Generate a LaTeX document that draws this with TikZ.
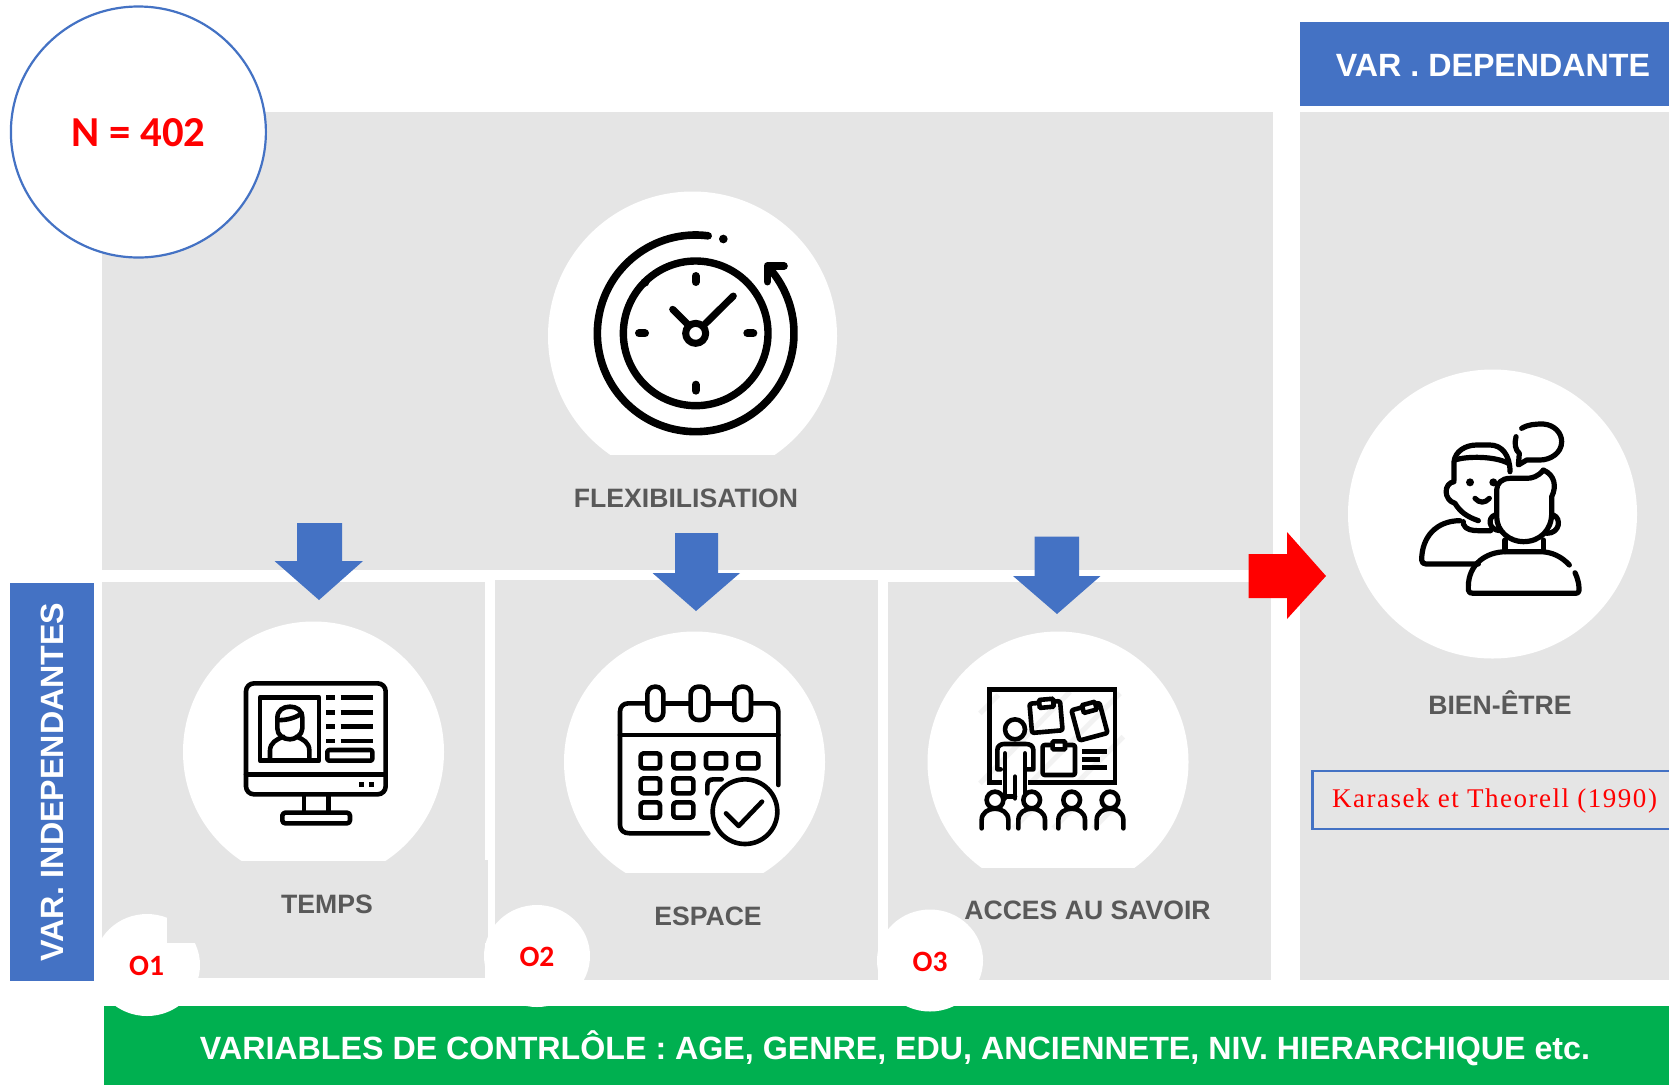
\documentclass[tikz,border=0pt]{standalone}
\usetikzlibrary{shapes.geometric}
\usepackage{fontspec}
\setmainfont{Liberation Sans}
\newfontfamily\calib{Carlito}
\newfontfamily\tim[LetterSpace=5.6]{Liberation Serif}
\definecolor{panel}{HTML}{E5E5E5}
\definecolor{bluebox}{HTML}{4472C4}
\definecolor{greenbar}{HTML}{00B050}
\definecolor{labelgray}{HTML}{595959}
\tikzset{
  panelbox/.style={fill=panel,draw=none},
  bluefill/.style={fill=bluebox,draw=none},
  disc/.style={fill=white,draw=none},
  head/.style={font=\bfseries\fontsize{26.6}{30}\selectfont,text=labelgray,inner sep=0pt},
  banner/.style={font=\bfseries\fontsize{32.2}{38}\selectfont,text=white,inner sep=0pt},
  obj/.style={font=\calib\bfseries\fontsize{29.5}{32}\selectfont,text=red,inner sep=0pt},
  ink/.style={draw=black,line cap=round,line join=round,fill=none,line width=5.2pt},
  inkfine/.style={ink,line width=4.6pt},
  stripe/.style={draw=black!5,line width=5pt},
  zoomed/.style={x=0.33333pt,y=-0.33333pt},
}
\begin{document}
\begin{tikzpicture}[x=1pt,y=-1pt]
\useasboundingbox (0,0) rectangle (1669,1085);
\fill[white] (0,0) rectangle (1669,1085);
% panels
\fill[panelbox] (102,112) rectangle (1273,570);
\fill[panelbox] (1300,112) rectangle (1669,980);
\fill[panelbox] (102,582) rectangle (485,860);
\fill[panelbox] (102,860) rectangle (488,943);
\fill[panelbox] (102,943) rectangle (485,978);
\fill[panelbox] (495,580) rectangle (878,980);
\fill[panelbox] (888,582) rectangle (1271,980);
% discs
\begin{scope}\clip (400,150) rectangle (1000,454.5);
\fill[disc] (692.5,336) circle (144.5);\end{scope}
\fill[disc] (1492.5,514) circle (144.5);
\begin{scope}\clip (150,600) rectangle (480,860);
\fill[disc] (313.5,752) circle (130.5);\end{scope}
\begin{scope}\clip (540,600) rectangle (860,872);
\fill[disc] (694.5,762) circle (130.5);\end{scope}
\begin{scope}\clip (900,600) rectangle (1220,867.5);
\fill[disc] (1058,762) circle (130.5);\end{scope}
% bars
\fill[bluefill] (10,583) rectangle (94,980.5);
\fill[bluefill] (1300,22) rectangle (1669,105.5);
\fill[greenbar] (104,1006) rectangle (1669,1085);
% objective discs
\fill[disc] (147,965) ellipse (53 and 51);
\fill[panelbox] (167,905) rectangle (210,943);
\fill[disc] (537,956) ellipse (53 and 51);
\fill[disc] (930,960.5) ellipse (53 and 51);
% N circle
\node[draw=bluebox,line width=2.2pt,fill=white,ellipse,inner sep=0pt,minimum width=255pt,minimum height=251pt] (ncircle) at (138.4,132) {};
\node[font=\calib\bfseries\fontsize{42.7}{46}\selectfont,text=red,inner sep=0pt] (ntext) at (138.5,133) {N = 402};
% labels
\node[banner] (vardep) at (1493,65) {VAR . DEPENDANTE};
\node[banner,rotate=90] (varind) at (52,782) {VAR. INDEPENDANTES};
\node[banner] (varctl) at (895,1048) {VARIABLES DE CONTRLÔLE : AGE, GENRE, EDU, ANCIENNETE, NIV. HIERARCHIQUE etc.};
\node[head] (flex) at (686,498) {FLEXIBILISATION};
\node[head] (temps) at (327,904) {TEMPS};
\node[head] (espace) at (708,916) {ESPACE};
\node[head] (acces) at (1087.5,910) {ACCES AU SAVOIR};
\node[head] (bien) at (1500,703) {BIEN-ÊTRE};
\node[obj] (oa) at (146.6,966) {O1};
\node[obj] (ob) at (537,957) {O2};
\node[obj] (oc) at (930,962) {O3};
% citation
\draw[bluebox,line width=2.2pt] (1675,770.7) -- (1312.5,770.7) -- (1312.5,829) -- (1675,829);
\node[font=\tim\fontsize{27}{30}\selectfont,text=red,inner sep=0pt] (cite) at (1494.5,801) {Karasek et Theorell (1990)};
% block arrows
\fill[bluefill] (297,523) -- (342,523) -- (342,561) -- (363,561) -- (319,600) -- (274.5,561) -- (297,561) -- cycle;
\fill[bluefill] (675,533) -- (718,533) -- (718,573) -- (740,573) -- (696,611) -- (652.5,573) -- (675,573) -- cycle;
\fill[bluefill] (1034.5,536.5) -- (1079,536.5) -- (1079,576) -- (1100.5,576) -- (1057,614) -- (1013,576) -- (1034.5,576) -- cycle;
\fill[red] (1248.7,554) -- (1287,554) -- (1287,532) -- (1326,576) -- (1287,619) -- (1287,598) -- (1248.7,598) -- cycle;
% clock
\begin{scope}[shift={(540pt,-190pt)},zoomed]
\clip (100,50) rectangle (773,760);
\draw[ink,line width=7.6pt] (467,430) ++(-82.7:295) arc (-82.7:-402.5:295);
\draw[ink,line width=7.6pt] (732,228) -- (682,228) -- (682,275);
\draw[ink,line width=7.4pt] (467,430) ++(146:217) arc (146:-238:217);
\fill (550,147) circle (13);
\fill (315,277) circle (13);
\draw[ink,line width=8pt] (467,258) -- (467,276);
\draw[ink,line width=8pt] (467,584) -- (467,602);
\draw[ink,line width=8pt] (297,430) -- (315,430);
\draw[ink,line width=8pt] (622,430) -- (640,430);
\draw[ink,line width=7pt] (467,430) circle (30);
\draw[ink,line width=7pt] (445,405) -- (398,358);
\draw[ink,line width=7pt] (492,405) -- (580,318);
\end{scope}
% people
\begin{scope}[shift={(1380pt,-400pt)},zoomed]
\draw[ink] (568,495) .. controls (545,470) and (515,455) .. (480,455) -- (380,455) .. controls (315,455) and (265,495) .. (265,560) -- (265,570) .. controls (265,578) and (272,580) .. (280,580) -- (585,580) .. controls (595,580) and (598,575) .. (597,565) .. controls (597,550) and (592,533) .. (585,518);
\draw[ink] (375,420) -- (375,455) (490,420) -- (490,455);
\draw[ink] (350,270) -- (350,350) .. controls (350,395) and (390,425) .. (430,425) .. controls (480,425) and (515,390) .. (515,340) -- (515,290) .. controls (530,260) and (525,225) .. (490,210) .. controls (475,230) and (455,235) .. (440,235) -- (390,235) .. controls (365,235) and (350,250) .. (350,270);
\draw[ink] (345,345) .. controls (322,352) and (325,390) .. (360,392);
\draw[ink] (520,345) .. controls (545,355) and (540,400) .. (500,400);
\draw[ink] (222,240) -- (222,185) .. controls (225,155) and (255,135) .. (290,135) -- (330,135) .. controls (365,135) and (390,165) .. (390,215);
\draw[ink] (225,180) .. controls (260,168) and (345,168) .. (385,190);
\draw[ink] (222,245) .. controls (190,250) and (190,300) .. (225,310) .. controls (240,335) and (260,350) .. (295,362);
\fill (270,247) circle (12);
\fill (340,247) circle (12);
\draw[ink] (285,295) .. controls (298,310) and (315,310) .. (328,295);
\draw[ink] (240,362) .. controls (170,362) and (125,410) .. (125,480) .. controls (125,488) and (130,492) .. (138,492) -- (295,492);
\draw[ink] (250,365) -- (250,372) .. controls (255,390) and (280,392) .. (295,392) -- (332,392);
\draw[ink] (425,85) .. controls (445,73) and (465,72) .. (490,72) .. controls (525,75) and (545,100) .. (545,125) .. controls (545,160) and (510,180) .. (480,180) -- (440,180) -- (415,195) -- (418,160) .. controls (405,150) and (403,130) .. (408,110);
\end{scope}
% monitor
\begin{scope}[shift={(220pt,-660pt)},zoomed]
\draw[inkfine,rounded corners=8pt] (78,70) rectangle (497,403);
\draw[inkfine] (78,343) -- (497,343);
\draw[inkfine] (252,403) -- (252,458) (325,403) -- (325,458);
\draw[inkfine,rounded corners=3pt] (187,458) rectangle (390,490);
\fill (418,366) rectangle (432,380);
\fill (448,366) rectangle (462,380);
\draw[inkfine,line cap=butt] (120,112) rectangle (297,302);
\foreach \yy in {113,157,200,243}{
  \draw[inkfine,line cap=butt] (318,\yy) -- (345,\yy) (362,\yy) -- (460,\yy);}
\draw[inkfine,rounded corners=2pt] (322,270) rectangle (457,302);
\draw[inkfine] (172,205) -- (172,175) .. controls (172,150) and (190,140) .. (210,140) .. controls (230,140) and (247,150) .. (247,175) -- (247,205) .. controls (247,225) and (225,238) .. (210,238) .. controls (190,238) and (172,225) .. (172,205);
\draw[inkfine] (172,180) .. controls (200,182) and (230,172) .. (245,160);
\draw[inkfine] (150,295) -- (150,272) .. controls (150,248) and (170,238) .. (190,230);
\draw[inkfine] (268,295) -- (268,272) .. controls (268,248) and (250,238) .. (230,230);
\end{scope}
% calendar
\begin{scope}[shift={(600pt,-670pt)},zoomed]
\draw[inkfine] (138,100) -- (85,100) .. controls (70,100) and (60,110) .. (60,125) -- (60,465) .. controls (60,480) and (70,490) .. (90,490) -- (325,490);
\draw[inkfine] (535,345) -- (535,125) .. controls (535,110) and (525,100) .. (510,100) -- (458,100);
\draw[inkfine] (195,100) -- (270,100) (330,100) -- (398,100);
\draw[inkfine] (60,195) -- (535,195);
\foreach \xa/\xb in {142/190,272/325,403/453}{
  \draw[inkfine,rounded corners=7.5pt] (\xa,50) rectangle (\xb,150);}
\foreach \xa/\xb in {122/180,220/280,318/378,415/475}{
  \draw[inkfine,rounded corners=3pt] (\xa,250) rectangle (\xb,295);}
\foreach \xa/\xb in {122/180,220/280}{
  \draw[inkfine,rounded corners=3pt] (\xa,325) rectangle (\xb,370);
  \draw[inkfine,rounded corners=3pt] (\xa,397) rectangle (\xb,443);}
\draw[inkfine] (365,328) -- (340,328) .. controls (328,328) and (322,335) .. (322,345) -- (322,370);
\draw[inkfine] (435,425) circle (97);
\draw[inkfine] (378,430) -- (416,468) -- (486,395);
\end{scope}
% class
\begin{scope}[shift={(960pt,-670pt)},zoomed]
\draw[stripe] (60,130) -- (115,75) (60,340) -- (330,65) (210,340) -- (480,70) (350,340) -- (490,200) (160,475) -- (215,420) (280,475) -- (345,410) (400,475) -- (470,405);
\draw[inkfine,line cap=butt,miter limit=4,line join=miter] (125,338) -- (88,338) -- (88,58) -- (465,58) -- (465,338) -- (205,338);
\draw[inkfine] (165,178) circle (30);
\draw[inkfine] (122,298) -- (112,298) -- (112,240) .. controls (112,228) and (122,222) .. (132,222) -- (198,222) .. controls (210,222) and (220,228) .. (220,240) -- (220,298) -- (197,298);
\draw[inkfine] (135,250) -- (135,385) (195,250) -- (195,370) (165,320) -- (165,385) (135,380) -- (165,380);
\foreach \cx in {105,215,335,450}{
  \draw[inkfine] (\cx,390) circle (25);
  \draw[inkfine] (\cx-40,475) -- (\cx-40,450) .. controls (\cx-40,428) and (\cx-20,416) .. (\cx,416) .. controls (\cx+20,416) and (\cx+40,428) .. (\cx+40,450) -- (\cx+40,475);}
\draw[inkfine,rounded corners=2pt,rotate around={5:(258,140)}] (212,97) rectangle (304,185);
\fill[white,draw=black,line width=4.6pt,rotate around={5:(258,100)},rounded corners=1pt] (238,88) rectangle (280,112);
\draw[inkfine,rounded corners=2pt,rotate around={15:(388,155)}] (345,108) rectangle (432,202);
\fill[white,draw=black,line width=4.6pt,rotate around={15:(388,112)},rounded corners=1pt] (368,100) rectangle (408,124);
\draw[inkfine,rounded corners=2pt] (248,225) rectangle (345,315);
\fill[white,draw=black,line width=4.6pt,rounded corners=1pt] (278,214) rectangle (315,238);
\draw[inkfine,line cap=butt] (367,245) -- (440,245) (367,268) -- (420,268) (367,293) -- (440,293);
\end{scope}
\end{tikzpicture}
\end{document}
